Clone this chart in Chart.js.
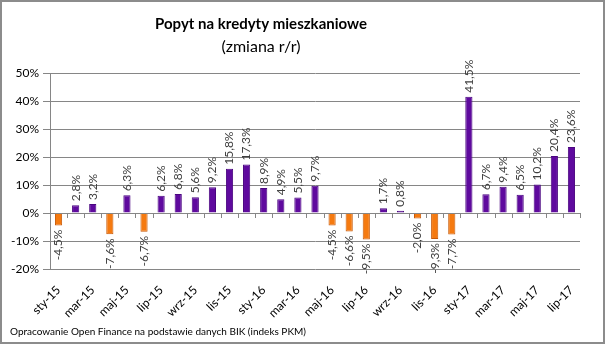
<!DOCTYPE html>
<html>
<head>
<meta charset="utf-8">
<script src="https://cdn.jsdelivr.net/npm/chart.js@4/dist/chart.umd.min.js"></script>
<style>
html,body{margin:0;padding:0;background:#fff;}
#wrap{width:605px;height:344px;position:relative;}
</style>
</head>
<body>
<div id="wrap"><canvas id="c" width="605" height="344"></canvas></div>
<script>
const categories = ['sty-15','lut-15','mar-15','kwi-15','maj-15','cze-15','lip-15','sie-15','wrz-15','paź-15','lis-15','gru-15',
  'sty-16','lut-16','mar-16','kwi-16','maj-16','cze-16','lip-16','sie-16','wrz-16','paź-16','lis-16','gru-16',
  'sty-17','lut-17','mar-17','kwi-17','maj-17','cze-17','lip-17'];
const values = [-4.5, 2.8, 3.2, -7.6, 6.3, -6.7, 6.2, 6.8, 5.6, 9.2, 15.8, 17.3,
  8.9, 4.9, 5.5, 9.7, -4.5, -6.6, -9.5, 1.7, 0.8, -2.0, -9.3, -7.7,
  41.5, 6.7, 9.4, 6.5, 10.2, 20.4, 23.6];
const yTicks = [-20, -10, 0, 10, 20, 30, 40, 50];
const titleText = 'Popyt na kredyty mieszkaniowe';
const subtitleText = '(zmiana r/r)';
const footerText = 'Opracowanie Open Finance na podstawie danych BIK (indeks PKM)';

const FONT = 'Lato, "Open Sans", sans-serif';
const fmt = v => v.toFixed(1).replace('.', ',') + '%';

const decor = {
  id: 'decor',
  afterDatasetsDraw(chart) {
    const ctx = chart.ctx;
    const x = chart.scales.x, y = chart.scales.y;
    const y0 = y.getPixelForValue(0);
    ctx.save();
    ctx.strokeStyle = '#868686';
    ctx.lineWidth = 1;
    ctx.beginPath();
    ctx.moveTo(chart.chartArea.left, Math.round(y0) + 0.5);
    ctx.lineTo(chart.chartArea.right, Math.round(y0) + 0.5);
    ctx.stroke();
    const n = categories.length;
    const w = (chart.chartArea.right - chart.chartArea.left) / n;
    ctx.beginPath();
    for (let i = 1; i <= n; i++) {
      const px = Math.round(x.getPixelForValue(i - 1) + w / 2) + 0.5;
      ctx.moveTo(px, Math.round(y0));
      ctx.lineTo(px, Math.round(y0) + 5);
    }
    ctx.stroke();
    const meta = chart.getDatasetMeta(0);
    ctx.fillStyle = '#404040';
    ctx.font = '12px ' + FONT;
    ctx.textBaseline = 'middle';
    meta.data.forEach((bar, i) => {
      const v = values[i];
      ctx.save();
      if (v >= 0) {
        ctx.translate(bar.x, bar.y - 4);
        ctx.rotate(-Math.PI / 2);
        ctx.textAlign = 'left';
      } else {
        ctx.translate(bar.x, bar.y + 4);
        ctx.rotate(-Math.PI / 2);
        ctx.textAlign = 'right';
      }
      ctx.fillText(fmt(v), 0, 0);
      ctx.restore();
    });
    ctx.restore();
  },
  afterDraw(chart) {
    const ctx = chart.ctx;
    ctx.save();
    ctx.fillStyle = '#000';
    ctx.textAlign = 'center';
    ctx.textBaseline = 'middle';
    ctx.font = 'bold 15px ' + FONT;
    ctx.fillText(titleText, 261, 24);
    ctx.font = '16px ' + FONT;
    ctx.fillText(subtitleText, 261, 47);
    ctx.textAlign = 'left';
    ctx.font = '10px ' + FONT;
    ctx.fillText(footerText, 10, 332);
    ctx.strokeStyle = '#8c8c8c';
    ctx.lineWidth = 2;
    ctx.strokeRect(1, 1, 603, 342);
    ctx.restore();
  }
};

new Chart(document.getElementById('c'), {
  type: 'bar',
  data: {
    labels: categories,
    datasets: [{
      data: values,
      backgroundColor: values.map(v => v >= 0 ? '#5f0a9e' : '#f57a10'),
      borderColor: values.map(v => v >= 0 ? '#4a0680' : '#c85a08'),
      borderWidth: 1,
      barPercentage: 0.42,
      categoryPercentage: 1
    }]
  },
  options: {
    responsive: false,
    animation: false,
    layout: { padding: { left: 0, right: 25, top: 73, bottom: 0 } },
    plugins: { legend: { display: false }, tooltip: { enabled: false } },
    scales: {
      x: {
        grid: { display: false },
        border: { display: false },
        ticks: {
          autoSkip: false, minRotation: 45, maxRotation: 45,
          color: '#000', font: { size: 12, family: FONT }, padding: 6,
          callback: (val, i) => i % 2 === 0 ? categories[i] : ''
        },
        afterFit: s => { s.height = 75; }
      },
      y: {
        min: -20, max: 50,
        afterBuildTicks: s => { s.ticks = yTicks.map(v => ({ value: v })); },
        grid: { color: '#868686', tickLength: 7, drawTicks: true },
        border: { display: true, color: '#868686' },
        ticks: {
          color: '#000', font: { size: 12, family: FONT }, padding: 4,
          callback: v => v + '%'
        },
        afterFit: s => { s.width = 50; }
      }
    }
  },
  plugins: [decor]
});
</script>
</body>
</html>
